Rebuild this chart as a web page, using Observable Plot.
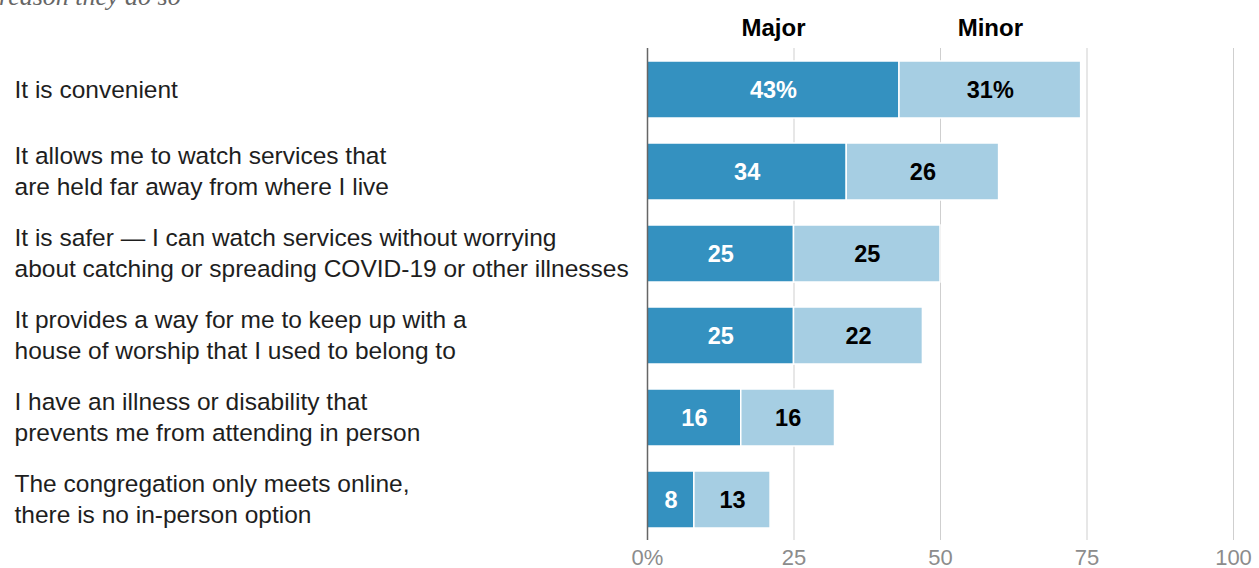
<!DOCTYPE html>
<html>
<head>
<meta charset="utf-8">
<script src="https://cdn.jsdelivr.net/npm/d3@7"></script>
<script src="https://cdn.jsdelivr.net/npm/@observablehq/plot@0.6"></script>
<style>
  html, body { margin: 0; padding: 0; background: #fff; overflow: hidden; }
  #wrap { position: relative; width: 1259px; height: 568px; }
  #sub { position: absolute; left: -1px; top: -16px; z-index: 2; font-family: "Liberation Serif", serif; font-style: italic; font-size: 26px; color: #666; white-space: nowrap; line-height: 26px; }
  #chart { position: absolute; left: 0; top: 0; z-index: 1; }
</style>
</head>
<body>
<div id="wrap">
  <div id="chart"></div>
  <div id="sub">reason they do so</div>
</div>
<script>
const categories = [
  "It is convenient",
  "It allows me to watch services that\nare held far away from where I live",
  "It is safer \u2014 I can watch services without worrying\nabout catching or spreading COVID-19 or other illnesses",
  "It provides a way for me to keep up with a\nhouse of worship that I used to belong to",
  "I have an illness or disability that\nprevents me from attending in person",
  "The congregation only meets online,\nthere is no in-person option"
];
const major = [43, 34, 25, 25, 16, 8];
const minor = [31, 26, 25, 22, 16, 13];
const seriesNames = ["Major", "Minor"];
const xTicks = [0, 25, 50, 75, 100];

const rows = [];
categories.forEach((c, i) => {
  rows.push({cat: c, type: "Major", x1: 0, x2: major[i], v: major[i], label: i === 0 ? major[i] + "%" : String(major[i])});
  rows.push({cat: c, type: "Minor", x1: major[i], x2: major[i] + minor[i], v: minor[i], label: i === 0 ? minor[i] + "%" : String(minor[i])});
});
const headers = [
  {name: seriesNames[0], x: major[0] / 2, cat: categories[0]},
  {name: seriesNames[1], x: major[0] + minor[0] / 2, cat: categories[0]}
];

const font = '"Liberation Sans", Arial, sans-serif';

const chart = Plot.plot({
  width: 1259,
  height: 568,
  marginLeft: 647,
  marginRight: 26,
  marginTop: 48,
  marginBottom: 28,
  style: {fontFamily: font, background: "#fff", overflow: "visible"},
  x: {domain: [0, 100], axis: null},
  y: {domain: categories, axis: null, paddingInner: 0.305, paddingOuter: 0.1525},
  marks: [
    Plot.ruleX(xTicks.slice(1), {stroke: "#cfcfcf", strokeWidth: 1}),
    Plot.axisX(xTicks, {tickSize: 0, tickPadding: 9, tickFormat: d => d === 0 ? "0%" : String(d), fontSize: 22, color: "#8c8c8c", fill: "#8c8c8c", label: null}),
    Plot.barX(rows, {y: "cat", x1: "x1", x2: "x2", fill: d => d.type, stroke: "#fff", strokeWidth: 1.5}),
    Plot.ruleX([0], {stroke: "#666", strokeWidth: 1.5}),
    Plot.text(rows, {y: "cat", x: d => (d.x1 + d.x2) / 2, text: "label", fill: d => d.type === "Major" ? "#fff" : "#000", fontSize: 23.5, fontWeight: "bold"}),
    Plot.text(headers, {y: "cat", x: "x", text: "name", dy: -62, fontSize: 24, fontWeight: "bold", fill: "#000"}),
    Plot.text(categories, {y: d => d, x: 0, text: d => d, dx: -633, dy: -2, textAnchor: "start", fontSize: 24.5, lineHeight: 1.265, fill: "#1e1e1e"})
  ],
  color: {domain: seriesNames, range: ["#3491c0", "#a6cee3"]}
});
document.getElementById("chart").appendChild(chart);
</script>
</body>
</html>
